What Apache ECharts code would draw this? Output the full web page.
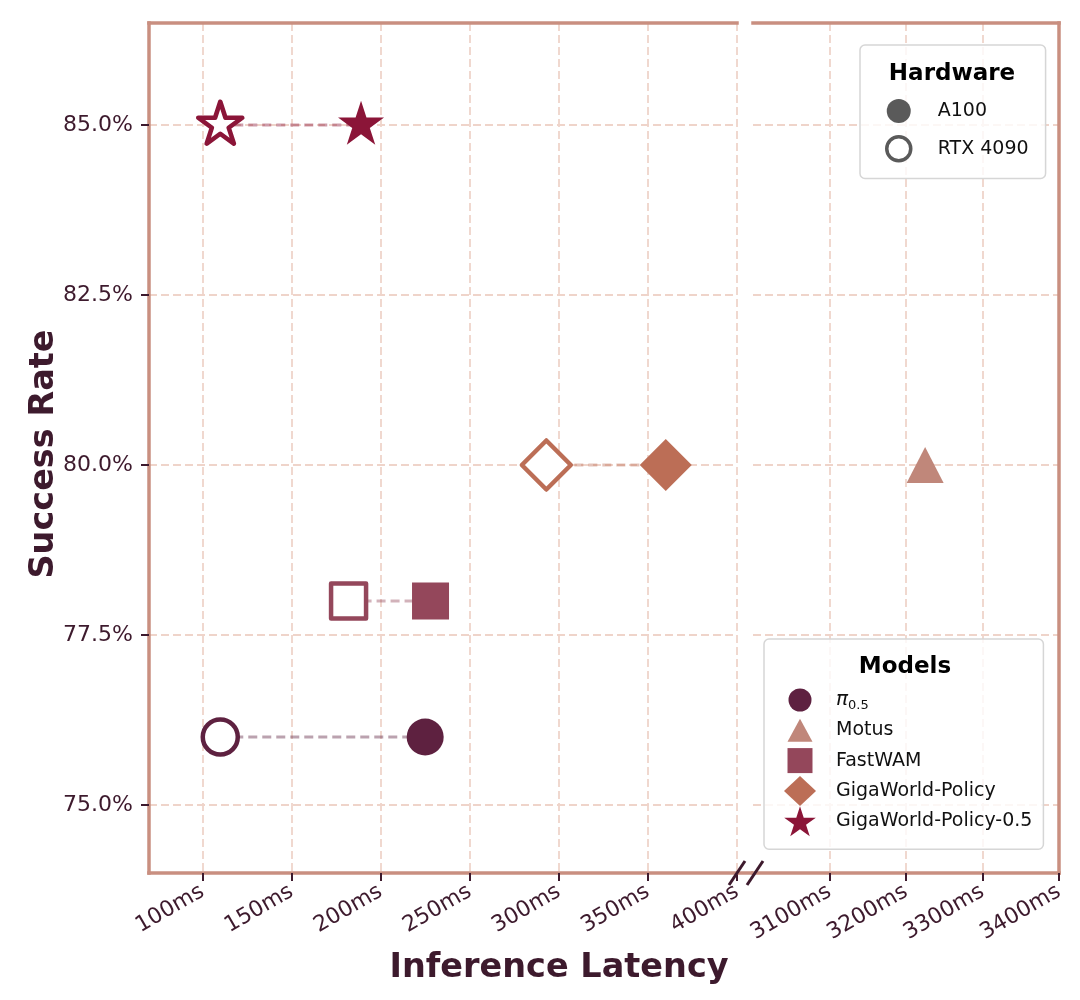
<!DOCTYPE html>
<html><head><meta charset="utf-8">
<script src="https://cdn.jsdelivr.net/npm/echarts@6/dist/echarts.min.js"></script>
<style>html,body{margin:0;padding:0;background:#fff;}#chart{width:1080px;height:1000px;}</style>
</head><body><div id="chart"></div>
<script>
// ---------- data ----------
const models = ['π0.5', 'Motus', 'FastWAM', 'GigaWorld-Policy', 'GigaWorld-Policy-0.5'];
const modelColors = ['#5e2140', '#c0877a', '#94475b', '#bc6e56', '#8b1538'];
const modelSymbols = ['circle', 'triangle', 'rect', 'diamond', 'star'];
const hardware = ['A100', 'RTX 4090'];
const successRate = [76.0, 80.0, 78.0, 80.0, 85.0];
const latencyA100 = [225, 3225, 228, 360, 189];
const latencyRTX4090 = [110, null, 182, 293, 110];
const leftTicks = [100, 150, 200, 250, 300, 350, 400];
const rightTicks = [3100, 3200, 3300, 3400];
const yTicks = [75.0, 77.5, 80.0, 82.5, 85.0];

// ---------- style ----------
const FONT = 'DejaVu Sans';
const TXT = '#3d1a2d';
const FRAME = '#c98f80';
const GRIDC = '#efd4ca';
const STAR = 'path://M0,-1 L-0.2245,-0.309 L-0.951,-0.309 L-0.363,0.118 L-0.588,0.809 L0,0.382 L0.588,0.809 L0.363,0.118 L0.951,-0.309 L0.2245,-0.309 Z';
const symMap = {circle: 'circle', triangle: 'triangle', rect: 'rect', diamond: 'diamond', star: STAR};
const filledSize = {circle: 37, triangle: [37, 36], rect: 37, diamond: 52, star: [46, 44]};
const hollowSize = {circle: 35, triangle: [33, 32], rect: 35, diamond: 49, star: [44, 42]};
const symOffset = s => s === 'star' ? [0, -2.3] : [0, 0];

// legend icons drawn in a 32x30 box (corner moves fix the box)
const BOX = 'M-16,-15 M16,15 ';
const legendIcons = {
  circle: 'path://' + BOX + 'M11.5,0 A11.5,11.5 0 1,1 -11.5,0 A11.5,11.5 0 1,1 11.5,0 Z',
  triangle: 'path://' + BOX + 'M0,-11.5 L12.5,11.5 L-12.5,11.5 Z',
  rect: 'path://' + BOX + 'M-12.5,-12.5 L12.5,-12.5 L12.5,12.5 L-12.5,12.5 Z',
  diamond: 'path://' + BOX + 'M0,-15 L16,0 L0,15 L-16,0 Z',
  star: 'path://' + BOX + 'M0,-15 L-3.73,-3.53 L-15.8,-3.53 L-6.03,3.56 L-9.76,15 L0,7.94 L9.76,15 L6.03,3.56 L15.8,-3.53 L3.73,-3.53 Z'
};

const chart = echarts.init(document.getElementById('chart'), null, {renderer: 'canvas'});

const series = [];
models.forEach((m, i) => {
  const c = modelColors[i], s = modelSymbols[i];
  const pts = [];
  if (latencyRTX4090[i] != null) {
    pts.push({
      value: [latencyRTX4090[i], successRate[i]],
      symbol: symMap[s], symbolSize: hollowSize[s], symbolOffset: symOffset(s),
      itemStyle: {color: '#ffffff', borderColor: c, borderWidth: 4.5, borderJoin: 'round', opacity: 1}
    });
  }
  pts.push({
    value: [latencyA100[i], successRate[i]],
    symbol: symMap[s], symbolSize: filledSize[s], symbolOffset: symOffset(s),
    itemStyle: {color: c, borderColor: c, borderWidth: 0, opacity: 1}
  });
  const right = latencyA100[i] > 1000;
  series.push({
    type: 'line', name: m,
    xAxisIndex: right ? 1 : 0, yAxisIndex: right ? 1 : 0,
    data: pts, color: c,
    showSymbol: true, showAllSymbol: true,
    lineStyle: {color: c, opacity: right ? 0 : 0.42, width: 3, type: [9, 5]},
    emphasis: {disabled: true}, z: 3
  });
});
hardware.forEach(h => series.push({type: 'line', name: h, data: [], xAxisIndex: 0, yAxisIndex: 0,
  itemStyle: {opacity: 1}}));

const splitLineStyle = {show: true, lineStyle: {color: GRIDC, width: 1.8, type: [8, 4]}};
const tickStyle = {show: true, length: 8, lineStyle: {color: TXT, width: 2}};
const frameLine = {show: true, lineStyle: {color: FRAME, width: 3.5, cap: 'square'}};
const xLabel = {rotate: 30, margin: 17, color: TXT, fontSize: 22, fontFamily: FONT, formatter: v => v + 'ms'};

const option = {
  backgroundColor: '#ffffff',
  animation: false,
  textStyle: {fontFamily: FONT},
  grid: [
    {left: 149, top: 23, width: 588, height: 850},
    {left: 753, top: 23, width: 306, height: 850}
  ],
  xAxis: [
    {type: 'value', gridIndex: 0, position: 'bottom', min: 70, max: 400,
     axisLine: frameLine, axisTick: Object.assign({customValues: leftTicks}, tickStyle),
     axisLabel: Object.assign({customValues: leftTicks}, xLabel),
     splitLine: splitLineStyle},
    {type: 'value', gridIndex: 1, position: 'bottom', min: 3000, max: 3400,
     axisLine: frameLine, axisTick: Object.assign({customValues: rightTicks}, tickStyle),
     axisLabel: Object.assign({customValues: rightTicks, showMaxLabel: true}, xLabel),
     splitLine: splitLineStyle},
    {type: 'value', gridIndex: 0, position: 'top', min: 70, max: 400,
     axisLine: frameLine, axisTick: {show: false}, axisLabel: {show: false}, splitLine: {show: false}},
    {type: 'value', gridIndex: 1, position: 'top', min: 3000, max: 3400,
     axisLine: frameLine, axisTick: {show: false}, axisLabel: {show: false}, splitLine: {show: false}}
  ],
  yAxis: [
    {type: 'value', gridIndex: 0, position: 'left', min: 74, max: 86.5,
     axisLine: frameLine, axisTick: Object.assign({customValues: yTicks}, tickStyle),
     axisLabel: {customValues: yTicks, margin: 16, color: TXT, fontSize: 22, fontFamily: FONT, formatter: v => v.toFixed(1) + '%'},
     splitLine: splitLineStyle},
    {type: 'value', gridIndex: 1, position: 'left', min: 74, max: 86.5,
     axisLine: {show: false}, axisTick: {show: false, customValues: yTicks},
     axisLabel: {show: false, customValues: yTicks}, splitLine: splitLineStyle},
    {type: 'value', gridIndex: 1, position: 'right', min: 74, max: 86.5,
     axisLine: frameLine, axisTick: {show: false}, axisLabel: {show: false}, splitLine: {show: false}}
  ],
  legend: [
    {
      orient: 'vertical', left: 860, top: 45,
      padding: [54, 17, 16, 25],
      itemWidth: 24, itemHeight: 24, itemGap: 12,
      selectedMode: false,
      backgroundColor: 'rgba(255,255,255,0.8)', borderColor: '#d6d6d6', borderWidth: 1.5, borderRadius: 5,
      textStyle: {fontSize: 19, color: '#111', fontFamily: FONT, padding: [0, 0, 0, 22]},
      data: [
        {name: 'A100', icon: 'circle', itemStyle: {color: '#5a5a5a', borderWidth: 0, opacity: 1}},
        {name: 'RTX 4090', icon: 'circle', itemStyle: {color: '#ffffff', borderColor: '#5a5a5a', borderWidth: 3.5, opacity: 1}}
      ]
    },
    {
      orient: 'vertical', left: 764, top: 639,
      padding: [46, 11, 13, 20],
      itemWidth: 32, itemHeight: 30, itemGap: 0.3,
      selectedMode: false,
      backgroundColor: 'rgba(255,255,255,0.8)', borderColor: '#d6d6d6', borderWidth: 1.5, borderRadius: 5,
      textStyle: {fontSize: 19, color: '#111', fontFamily: FONT, padding: [0, 0, 0, 15],
        rich: {
          pi: {fontSize: 20, fontStyle: 'italic', fontFamily: FONT, color: '#111', lineHeight: 24, verticalAlign: 'middle'},
          sub: {fontSize: 13, fontFamily: FONT, color: '#111', lineHeight: 24, verticalAlign: 'bottom'}
        }},
      formatter: n => n === 'π0.5' ? '{pi|π}{sub|0.5}' : n,
      data: models.map((m, i) => ({
        name: m,
        icon: legendIcons[modelSymbols[i]],
        itemStyle: {color: modelColors[i], borderWidth: 0, opacity: 1}
      }))
    }
  ],
  graphic: [
    {type: 'text', x: 952, y: 74, z: 100, style: {text: 'Hardware', font: 'bold 23px "DejaVu Sans"', fill: '#000', textAlign: 'center', textVerticalAlign: 'middle'}},
    {type: 'text', x: 905, y: 667, z: 100, style: {text: 'Models', font: 'bold 23px "DejaVu Sans"', fill: '#000', textAlign: 'center', textVerticalAlign: 'middle'}},
    {type: 'text', x: 559, y: 968, z: 100, style: {text: 'Inference Latency', font: 'bold 33.5px "DejaVu Sans"', fill: TXT, textAlign: 'center', textVerticalAlign: 'middle'}},
    {type: 'text', x: 44, y: 454, rotation: Math.PI / 2, z: 100, style: {text: 'Success Rate', font: 'bold 33.5px "DejaVu Sans"', fill: TXT, textAlign: 'center', textVerticalAlign: 'middle'}},
    {type: 'line', z: 50, shape: {x1: 737, y1: 873, x2: 753, y2: 873}, style: {stroke: FRAME, lineWidth: 3.5}},
    {type: 'line', z: 60, shape: {x1: 745, y1: 861, x2: 729, y2: 885}, style: {stroke: TXT, lineWidth: 3}},
    {type: 'line', z: 60, shape: {x1: 763, y1: 861, x2: 747, y2: 885}, style: {stroke: TXT, lineWidth: 3}}
  ],
  series: series
};
chart.setOption(option);
</script>
</body></html>
